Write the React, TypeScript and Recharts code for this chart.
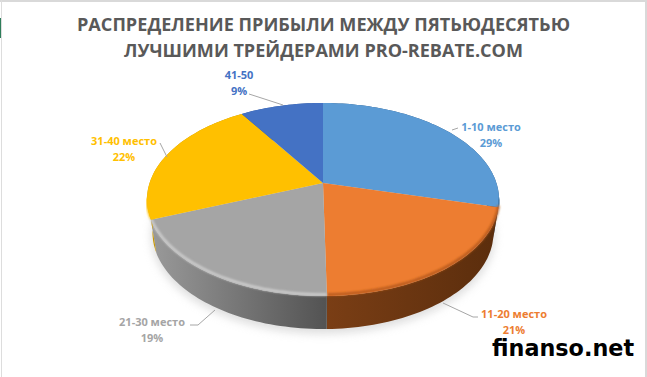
import { PieChart, Pie } from "recharts";

const NAMES = ["1-10 место", "11-20 место", "21-30 место", "31-40 место", "41-50"];
const VALUES = [29, 20.7, 19.3, 22, 9];
const COLORS = ["#5B9BD5", "#ED7D31", "#A5A5A5", "#FFC000", "#4472C4"];
const RIMS = ["#3E74A6", "#B5591C", "#CFCFCF", "#FFC000", "#4472C4"];
const SIDE_STOPS = [
  ["#2F5F8C", "#2A5580"],
  ["#7A3E15", "#5C2E0D"],
  ["#9A9A9A", "#535353"],
  ["#C99700", "#A88000"],
  ["#2F5597", "#2F5597"],
];
const TITLE_LINES = [
  "РАСПРЕДЕЛЕНИЕ ПРИБЫЛИ МЕЖДУ ПЯТЬЮДЕСЯТЬЮ",
  "ЛУЧШИМИ ТРЕЙДЕРАМИ PRO-REBATE.COM",
];
const TITLE_WIDTHS = [493, 399];

// where each label sits and how its leader line runs
const LABEL_AT = [
  { x: 491, y: 131, line: "452,130 458,128" },
  { x: 514, y: 318, line: "443,303 473,317 478,317" },
  { x: 152, y: 326, line: "215,310 198,325 190,325" },
  { x: 124, y: 145, line: "160,143 167,157" },
  { x: 239, y: 79, line: "249,94 283,105" },
];

const chartData = NAMES.map((name, i) => ({ name, value: VALUES[i] }));
const total = VALUES.reduce((a, b) => a + b, 0);

const CX = 323;
const CY = 183;
const FONT = "'Open Sans', sans-serif";

// the disc is tilted, so a circle goes through a perspective map
const TILT = 0.171;
const TOP_FACE = { a: 173.4, b: 93.7, dy: 0 };
const BOTTOM_FACE = { a: 168, b: 93.7, dy: 33 };

type Face = typeof TOP_FACE;

function project(angle: number, face: Face) {
  const rad = (angle * Math.PI) / 180;
  const ux = Math.cos(rad);
  const uy = -Math.sin(rad);
  const w = 1 - TILT * uy;
  return [CX + (face.a * ux) / w, CY + face.dy + (face.b * uy) / w];
}

function arc(start: number, end: number, face: Face) {
  const steps = Math.max(2, Math.ceil(Math.abs(end - start) / 1.5));
  const pts: number[][] = [];
  for (let i = 0; i <= steps; i++) {
    pts.push(project(start + ((end - start) * i) / steps, face));
  }
  return pts;
}

const toPath = (pts: number[][]) =>
  pts.map((p, i) => `${i ? "L" : "M"}${p[0].toFixed(1)} ${p[1].toFixed(1)}`).join(" ");

function SideShape(props: any) {
  const i = NAMES.indexOf(props.name);
  const top = arc(props.startAngle, props.endAngle, TOP_FACE);
  const bottom = arc(props.startAngle, props.endAngle, BOTTOM_FACE).reverse();
  return <path d={toPath([...top, ...bottom]) + " Z"} fill={`url(#side${i})`} />;
}

function TopShape(props: any) {
  const i = NAMES.indexOf(props.name);
  const pts = arc(props.startAngle, props.endAngle, TOP_FACE);
  const lower = pts.filter((p) => p[1] > CY + 15);
  return (
    <g>
      <path d={`M${CX} ${CY} ` + toPath(pts).replace("M", "L") + " Z"} fill={COLORS[i]} />
      {lower.length > 1 && (
        <path
          d={toPath(lower.map((p) => [p[0], p[1] - 1.5]))}
          fill="none"
          stroke={RIMS[i]}
          strokeWidth={2.5}
          filter="url(#rimBlur)"
        />
      )}
    </g>
  );
}

function SliceLabel(props: any) {
  const i = NAMES.indexOf(props.name);
  const at = LABEL_AT[i];
  return (
    <g>
      <polyline points={at.line} fill="none" stroke="#A6A6A6" strokeWidth={1} />
      <text
        x={at.x}
        y={at.y}
        textAnchor="middle"
        fill={COLORS[i]}
        fontFamily={FONT}
        fontSize={11}
        fontWeight={700}
      >
        {NAMES[i]}
      </text>
      <text
        x={at.x}
        y={at.y + 16}
        textAnchor="middle"
        fill={COLORS[i]}
        fontFamily={FONT}
        fontSize={11}
        fontWeight={700}
      >
        {Math.round((VALUES[i] / total) * 100)}%
      </text>
    </g>
  );
}

export default function App() {
  return (
    <div style={{ position: "fixed", left: 0, top: 0, width: 647, height: 377, background: "#fff" }}>
      <PieChart width={647} height={377} margin={{ top: 0, right: 0, bottom: 0, left: 0 }}>
        <defs>
          {SIDE_STOPS.map((stops, i) => (
            <linearGradient
              key={i}
              id={`side${i}`}
              gradientUnits="userSpaceOnUse"
              x1={i === 1 ? 326 : 150}
              x2={i === 1 ? 490 : 326}
              y1={0}
              y2={0}
            >
              <stop offset="0%" stopColor={stops[0]} />
              <stop offset="100%" stopColor={stops[1]} />
            </linearGradient>
          ))}
          <filter id="rimBlur" x="-10%" y="-10%" width="120%" height="120%">
            <feGaussianBlur stdDeviation="1" />
          </filter>
          <filter id="shadowBlur" x="-10%" y="-20%" width="120%" height="140%">
            <feGaussianBlur stdDeviation="4" />
          </filter>
        </defs>
        {/* bits of the spreadsheet window left in the screenshot */}
        <rect x={0} y={0} width={647} height={2} fill="#D9D9D9" />
        <rect x={1} y={0} width={1} height={377} fill="#DDDDDD" />
        <rect x={645} y={0} width={2} height={377} fill="#D9D9D9" />
        <rect x={0} y={18} width={1} height={20} fill="#2E7D5A" />
        <ellipse cx={CX} cy={236} rx={172} ry={98} fill="#BFBFBF" opacity={0.5} filter="url(#shadowBlur)" />
        {TITLE_LINES.map((line, i) => (
          <text
            key={line}
            x={323.5}
            y={31 + i * 26}
            textAnchor="middle"
            fill="#595959"
            fontFamily={FONT}
            fontSize={18}
            fontWeight={700}
            textLength={TITLE_WIDTHS[i]}
            lengthAdjust="spacingAndGlyphs"
          >
            {line}
          </text>
        ))}
        <Pie
          data={chartData}
          dataKey="value"
          nameKey="name"
          cx={CX}
          cy={CY}
          outerRadius={100}
          startAngle={90}
          endAngle={-270}
          stroke="none"
          isAnimationActive={false}
          shape={SideShape}
        />
        <Pie
          data={chartData}
          dataKey="value"
          nameKey="name"
          cx={CX}
          cy={CY}
          outerRadius={100}
          startAngle={90}
          endAngle={-270}
          stroke="none"
          isAnimationActive={false}
          shape={TopShape}
          label={SliceLabel}
          labelLine={false}
        />
        <text x={492} y={356} fill="#000" fontFamily="'DejaVu Sans', sans-serif" fontSize={22.3} fontWeight={700}>
          finanso.net
        </text>
      </PieChart>
    </div>
  );
}
